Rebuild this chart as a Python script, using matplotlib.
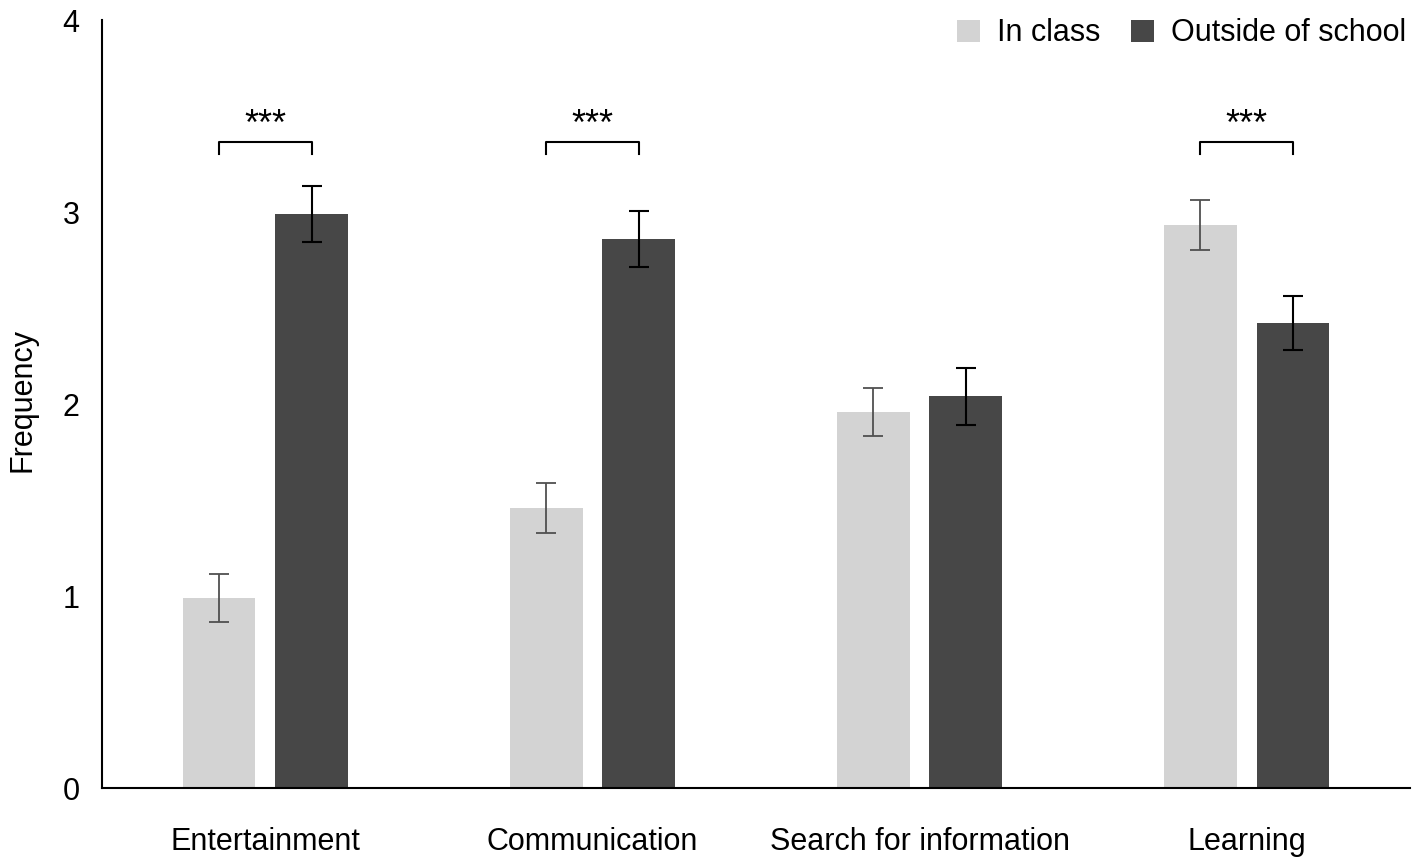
import numpy as np
import matplotlib.pyplot as plt

plt.rcParams['font.family'] = ['Liberation Sans', 'DejaVu Sans']

# Data
categories = ['Entertainment', 'Communication', 'Search for information', 'Learning']
in_class = [0.99, 1.46, 1.96, 2.93]
in_class_err = [0.125, 0.13, 0.125, 0.13]
outside = [2.99, 2.86, 2.04, 2.42]
outside_err = [0.145, 0.145, 0.15, 0.14]
significant = [True, True, False, True]

light = '#d3d3d3'
dark = '#474747'

fig = plt.figure(figsize=(14.18, 8.63), dpi=100)
ax = fig.add_axes([0.0719, 0.0869, 0.9225, 0.8899])

x = np.arange(len(categories))
w = 0.223
off = 0.142

ax.bar(x - off, in_class, w, color=light, label='In class')
ax.bar(x + off, outside, w, color=dark, label='Outside of school')
ax.errorbar(x - off, in_class, yerr=in_class_err, fmt='none', ecolor='#505050',
            elinewidth=1.3, capsize=7, capthick=1.3)
ax.errorbar(x + off, outside, yerr=outside_err, fmt='none', ecolor='black',
            elinewidth=1.5, capsize=7, capthick=1.5)

# significance brackets
for i, sig in enumerate(significant):
    if not sig:
        continue
    ax.plot([i - off, i - off, i + off, i + off], [3.30, 3.365, 3.365, 3.30],
            color='black', lw=1.5)
    ax.text(i, 3.36, '***', ha='center', va='bottom', fontsize=26)

ax.set_xlim(-0.5, 3.5)
ax.set_ylim(0, 4)
ax.set_yticks([0, 1, 2, 3, 4])
ax.set_xticks(x)
ax.set_xticklabels(categories)
ax.tick_params(axis='both', length=0, labelsize=22)
ax.tick_params(axis='x', pad=28)
ax.tick_params(axis='y', pad=16)
ax.spines['top'].set_visible(False)
ax.spines['right'].set_visible(False)
ax.spines['left'].set_linewidth(1.5)
ax.spines['bottom'].set_linewidth(1.5)
ax.set_ylabel('Frequency', fontsize=22)
ax.yaxis.set_label_coords(-0.049, 0.505)

ax.legend(loc='upper right', bbox_to_anchor=(1.006, 1.018), frameon=False, fontsize=22,
          ncol=2, handlelength=0.75, handleheight=0.75, handletextpad=0.55, columnspacing=1.0,
          borderaxespad=0)

fig.savefig('out.png', dpi=100)
